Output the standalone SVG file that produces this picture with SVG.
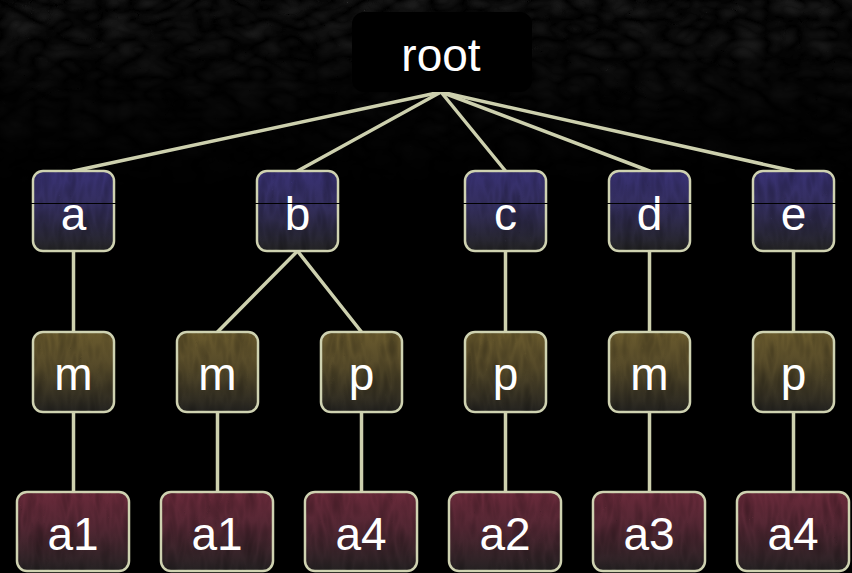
<svg xmlns="http://www.w3.org/2000/svg" width="852" height="573" viewBox="0 0 852 573">
  <defs>
    <linearGradient id="gBlue" x1="0" y1="0" x2="0" y2="1">
      <stop offset="0" stop-color="#393274"/>
      <stop offset="0.45" stop-color="#332e5c"/>
      <stop offset="1" stop-color="#242424"/>
    </linearGradient>
    <linearGradient id="gOlive" x1="0" y1="0" x2="0" y2="1">
      <stop offset="0" stop-color="#6a5b2e"/>
      <stop offset="0.45" stop-color="#544929"/>
      <stop offset="1" stop-color="#242320"/>
    </linearGradient>
    <linearGradient id="gWine" x1="0" y1="0" x2="0" y2="1">
      <stop offset="0" stop-color="#692a3a"/>
      <stop offset="0.45" stop-color="#522733"/>
      <stop offset="1" stop-color="#252223"/>
    </linearGradient>
    <linearGradient id="bgFade" x1="0" y1="0" x2="0" y2="1">
      <stop offset="0" stop-color="#fff" stop-opacity="1"/>
      <stop offset="0.5" stop-color="#fff" stop-opacity="0.35"/>
      <stop offset="1" stop-color="#fff" stop-opacity="0"/>
    </linearGradient>
    <mask id="bgMask">
      <rect x="0" y="0" width="852" height="190" fill="url(#bgFade)"/>
    </mask>
    <!-- wood-like grain, clipped to the shape it is applied to -->
    <filter id="grain" x="0" y="0" width="100%" height="100%">
      <feTurbulence type="turbulence" baseFrequency="0.09 0.025" numOctaves="2" seed="7" result="t"/>
      <feColorMatrix in="t" type="matrix" values="0 0 0 0 0  0 0 0 0 0  0 0 0 0 0  1.6 0 0 0 -0.15" result="a"/>
      <feComposite in="a" in2="SourceGraphic" operator="in"/>
    </filter>
    <filter id="bgGrain" x="0" y="0" width="100%" height="100%">
      <feTurbulence type="turbulence" baseFrequency="0.03 0.05" numOctaves="2" seed="3" result="t"/>
      <feColorMatrix in="t" type="matrix" values="0 0 0 0 0.1  0 0 0 0 0.1  0 0 0 0 0.1  0.5 0 0 0 0" result="a"/>
      <feComposite in="a" in2="SourceGraphic" operator="in"/>
    </filter>
  </defs>
  <style>
    .node { stroke: #cfd2b1; stroke-width: 2.5; }
    .tex { fill: #000; opacity: 0.25; }
    .lbl { fill: #ffffff; font-family: "Liberation Sans", Arial, sans-serif; font-size: 46px; text-anchor: middle; }
    .edge { stroke: #cdd0ae; stroke-width: 3.5; fill: none; stroke-linecap: round; }
  </style>

  <!-- background -->
  <rect x="0" y="0" width="852" height="573" fill="#000"/>
  <rect x="0" y="0" width="852" height="190" fill="#fff" filter="url(#bgGrain)" mask="url(#bgMask)"/>

  <!-- connectors -->
  <g id="edges">
    <line class="edge" x1="441" y1="92" x2="73.5" y2="171"/>
    <line class="edge" x1="441" y1="92" x2="297.5" y2="171"/>
    <line class="edge" x1="441" y1="92" x2="505.5" y2="171"/>
    <line class="edge" x1="441" y1="92" x2="649.5" y2="171"/>
    <line class="edge" x1="441" y1="92" x2="793.5" y2="171"/>
    <line class="edge" x1="73.5" y1="251" x2="73.5" y2="332"/>
    <line class="edge" x1="297.5" y1="251" x2="217.5" y2="332"/>
    <line class="edge" x1="297.5" y1="251" x2="361.5" y2="332"/>
    <line class="edge" x1="505.5" y1="251" x2="505.5" y2="332"/>
    <line class="edge" x1="649.5" y1="251" x2="649.5" y2="332"/>
    <line class="edge" x1="793.5" y1="251" x2="793.5" y2="332"/>
    <line class="edge" x1="73.5" y1="412" x2="73.5" y2="492"/>
    <line class="edge" x1="217.5" y1="412" x2="217.5" y2="492"/>
    <line class="edge" x1="361.5" y1="412" x2="361.5" y2="492"/>
    <line class="edge" x1="505.5" y1="412" x2="505.5" y2="492"/>
    <line class="edge" x1="649.5" y1="412" x2="649.5" y2="492"/>
    <line class="edge" x1="793.5" y1="412" x2="793.5" y2="492"/>
  </g>

  <!-- root -->
  <g id="root">
    <rect x="352" y="12" width="180" height="80" rx="12" fill="#000"/>
    <text class="lbl" x="441" y="71">root</text>
  </g>

  <!-- first level -->
  <g id="n-a">
    <rect class="node" x="33" y="171" width="81" height="80" rx="10" fill="url(#gBlue)"/>
    <rect class="tex" x="34" y="172" width="79" height="78" rx="9" filter="url(#grain)"/>
    <text class="lbl" x="73.5" y="230">a</text>
  </g>
  <g id="n-b">
    <rect class="node" x="257" y="171" width="81" height="80" rx="10" fill="url(#gBlue)"/>
    <rect class="tex" x="258" y="172" width="79" height="78" rx="9" filter="url(#grain)"/>
    <text class="lbl" x="297.5" y="230">b</text>
  </g>
  <g id="n-c">
    <rect class="node" x="465" y="171" width="81" height="80" rx="10" fill="url(#gBlue)"/>
    <rect class="tex" x="466" y="172" width="79" height="78" rx="9" filter="url(#grain)"/>
    <text class="lbl" x="505.5" y="230">c</text>
  </g>
  <g id="n-d">
    <rect class="node" x="609" y="171" width="81" height="80" rx="10" fill="url(#gBlue)"/>
    <rect class="tex" x="610" y="172" width="79" height="78" rx="9" filter="url(#grain)"/>
    <text class="lbl" x="649.5" y="230">d</text>
  </g>
  <g id="n-e">
    <rect class="node" x="753" y="171" width="81" height="80" rx="10" fill="url(#gBlue)"/>
    <rect class="tex" x="754" y="172" width="79" height="78" rx="9" filter="url(#grain)"/>
    <text class="lbl" x="793.5" y="230">e</text>
  </g>
  <!-- thin rule across the first level -->
  <line x1="30" y1="203.5" x2="836" y2="203.5" stroke="#000" stroke-width="1"/>

  <!-- second level -->
  <g id="n-a-m">
    <rect class="node" x="33" y="332" width="81" height="80" rx="10" fill="url(#gOlive)"/>
    <rect class="tex" x="34" y="333" width="79" height="78" rx="9" filter="url(#grain)"/>
    <text class="lbl" x="73.5" y="390">m</text>
  </g>
  <g id="n-b-m">
    <rect class="node" x="177" y="332" width="81" height="80" rx="10" fill="url(#gOlive)"/>
    <rect class="tex" x="178" y="333" width="79" height="78" rx="9" filter="url(#grain)"/>
    <text class="lbl" x="217.5" y="390">m</text>
  </g>
  <g id="n-b-p">
    <rect class="node" x="321" y="332" width="81" height="80" rx="10" fill="url(#gOlive)"/>
    <rect class="tex" x="322" y="333" width="79" height="78" rx="9" filter="url(#grain)"/>
    <text class="lbl" x="361.5" y="390">p</text>
  </g>
  <g id="n-c-p">
    <rect class="node" x="465" y="332" width="81" height="80" rx="10" fill="url(#gOlive)"/>
    <rect class="tex" x="466" y="333" width="79" height="78" rx="9" filter="url(#grain)"/>
    <text class="lbl" x="505.5" y="390">p</text>
  </g>
  <g id="n-d-m">
    <rect class="node" x="609" y="332" width="81" height="80" rx="10" fill="url(#gOlive)"/>
    <rect class="tex" x="610" y="333" width="79" height="78" rx="9" filter="url(#grain)"/>
    <text class="lbl" x="649.5" y="390">m</text>
  </g>
  <g id="n-e-p">
    <rect class="node" x="753" y="332" width="81" height="80" rx="10" fill="url(#gOlive)"/>
    <rect class="tex" x="754" y="333" width="79" height="78" rx="9" filter="url(#grain)"/>
    <text class="lbl" x="793.5" y="390">p</text>
  </g>

  <!-- leaves -->
  <g id="n-a-m-a1">
    <rect class="node" x="17" y="492" width="112" height="79" rx="10" fill="url(#gWine)"/>
    <rect class="tex" x="18" y="493" width="110" height="77" rx="9" filter="url(#grain)"/>
    <text class="lbl" x="73" y="550">a1</text>
  </g>
  <g id="n-b-m-a1">
    <rect class="node" x="161" y="492" width="112" height="79" rx="10" fill="url(#gWine)"/>
    <rect class="tex" x="162" y="493" width="110" height="77" rx="9" filter="url(#grain)"/>
    <text class="lbl" x="217" y="550">a1</text>
  </g>
  <g id="n-b-p-a4">
    <rect class="node" x="305" y="492" width="112" height="79" rx="10" fill="url(#gWine)"/>
    <rect class="tex" x="306" y="493" width="110" height="77" rx="9" filter="url(#grain)"/>
    <text class="lbl" x="361" y="550">a4</text>
  </g>
  <g id="n-c-p-a2">
    <rect class="node" x="449" y="492" width="112" height="79" rx="10" fill="url(#gWine)"/>
    <rect class="tex" x="450" y="493" width="110" height="77" rx="9" filter="url(#grain)"/>
    <text class="lbl" x="505" y="550">a2</text>
  </g>
  <g id="n-d-m-a3">
    <rect class="node" x="593" y="492" width="112" height="79" rx="10" fill="url(#gWine)"/>
    <rect class="tex" x="594" y="493" width="110" height="77" rx="9" filter="url(#grain)"/>
    <text class="lbl" x="649" y="550">a3</text>
  </g>
  <g id="n-e-p-a4">
    <rect class="node" x="737" y="492" width="112" height="79" rx="10" fill="url(#gWine)"/>
    <rect class="tex" x="738" y="493" width="110" height="77" rx="9" filter="url(#grain)"/>
    <text class="lbl" x="793" y="550">a4</text>
  </g>
</svg>
